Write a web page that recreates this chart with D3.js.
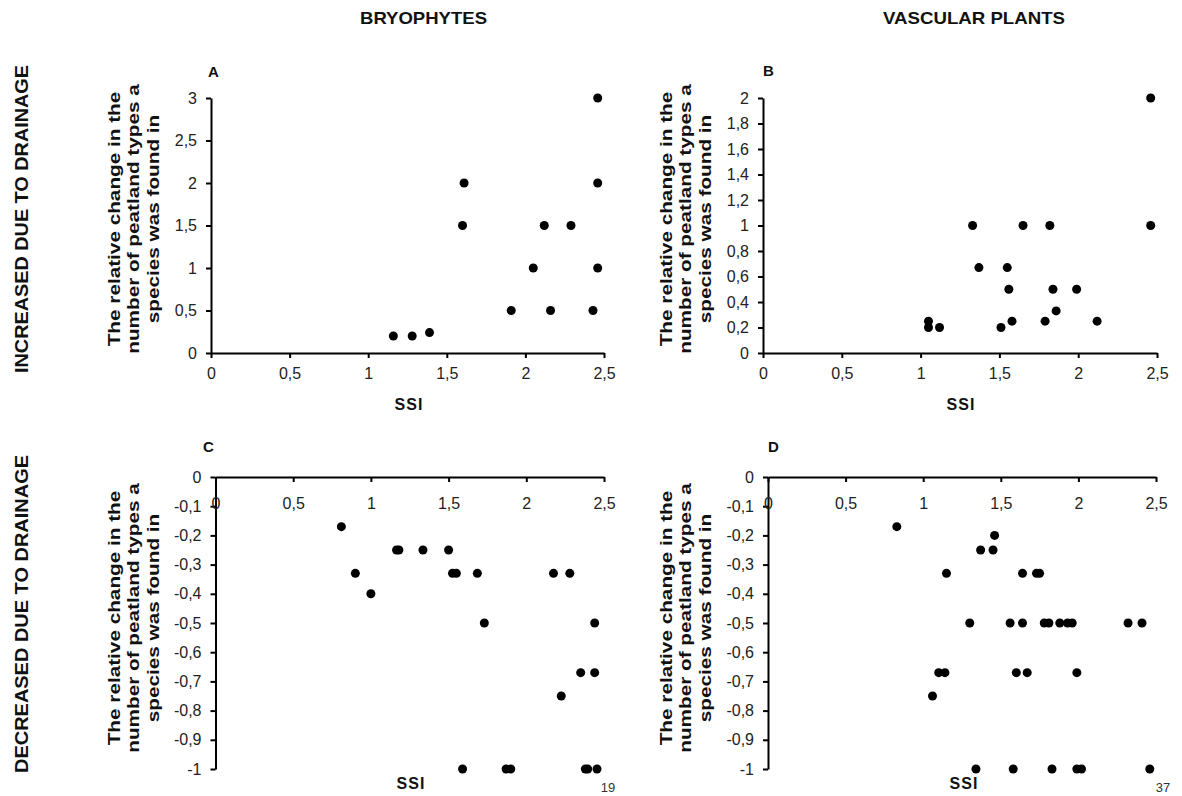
<!DOCTYPE html>
<html>
<head>
<meta charset="utf-8">
<script src="https://cdn.jsdelivr.net/npm/d3@7"></script>
<style>
  html, body { margin: 0; padding: 0; background: #fff; }
  svg { display: block; font-family: "Liberation Sans", Arial, sans-serif; }
</style>
</head>
<body>
<svg id="chart" width="1182" height="796"></svg>
<script>
// ---------- DATA ----------
const columnTitles = ["BRYOPHYTES", "VASCULAR PLANTS"];
const rowTitles = ["INCREASED DUE TO DRAINAGE", "DECREASED DUE TO DRAINAGE"];
const panelLetters = ["A", "B", "C", "D"];
const yLabelLines = ["The relative change in the", "number of peatland types a", "species was found in"];
const xLabel = "SSI";
const countLabels = ["19", "37"];

const xTicks = [0, 0.5, 1, 1.5, 2, 2.5];
const yTicksA = [0, 0.5, 1, 1.5, 2, 2.5, 3];
const yTicksB = [0, 0.2, 0.4, 0.6, 0.8, 1, 1.2, 1.4, 1.6, 1.8, 2];
const yTicksDec = [0, -0.1, -0.2, -0.3, -0.4, -0.5, -0.6, -0.7, -0.8, -0.9, -1];

// A: bryophytes, increased
const bryoIncX = [1.16, 1.28, 1.39, 1.60, 1.61, 1.91, 2.05, 2.12, 2.16, 2.29, 2.43, 2.46, 2.46, 2.46];
const bryoIncY = [0.2, 0.2, 0.24, 1.5, 2, 0.5, 1, 1.5, 0.5, 1.5, 0.5, 3, 2, 1];

// B: vascular plants, increased
const vascIncX = [1.05, 1.05, 1.12, 1.33, 1.37, 1.51, 1.55, 1.56, 1.58, 1.65, 1.79, 1.82, 1.84, 1.86, 1.99, 2.12, 2.46, 2.46];
const vascIncY = [0.25, 0.2, 0.2, 1, 0.67, 0.2, 0.67, 0.5, 0.25, 1, 0.25, 1, 0.5, 0.33, 0.5, 0.25, 2, 1];

// C: bryophytes, decreased
const bryoDecX = [0.81, 0.90, 1.00, 1.165, 1.18, 1.335, 1.50, 1.525, 1.55, 1.685, 1.73, 1.59, 1.87, 1.90, 2.175, 2.28, 2.225, 2.35, 2.44, 2.44, 2.38, 2.395, 2.455];
const bryoDecY = [-0.17, -0.33, -0.4, -0.25, -0.25, -0.25, -0.25, -0.33, -0.33, -0.33, -0.5, -1, -1, -1, -0.33, -0.33, -0.75, -0.67, -0.5, -0.67, -1, -1, -1];

// D: vascular plants, decreased
const vascDecX = [0.83, 1.06, 1.10, 1.14, 1.15, 1.30, 1.34, 1.37, 1.45, 1.46, 1.56, 1.58, 1.60, 1.64, 1.64, 1.67, 1.73, 1.75, 1.78, 1.81, 1.83, 1.88, 1.93, 1.96, 1.99, 1.99, 2.02, 2.32, 2.41, 2.46];
const vascDecY = [-0.17, -0.75, -0.67, -0.67, -0.33, -0.5, -1, -0.25, -0.25, -0.2, -0.5, -1, -0.67, -0.33, -0.5, -0.67, -0.33, -0.33, -0.5, -0.5, -1, -0.5, -0.5, -0.5, -0.67, -1, -1, -0.5, -0.5, -1];

// ---------- LAYOUT ----------
const svg = d3.select("#chart");
const fmt = v => String(+v.toFixed(2)).replace(".", ",");

const panels = [
  { letter: panelLetters[0], xs: bryoIncX, ys: bryoIncY, yTicks: yTicksA, yDomain: [0, 3],
    x0: 211, x1: 604, yTop: 98, yBot: 353, inverted: false, lblX: 104, lblCY: 219,
    letterPos: [208, 77], ssiPos: [409, 410] },
  { letter: panelLetters[1], xs: vascIncX, ys: vascIncY, yTicks: yTicksB, yDomain: [0, 2],
    x0: 763, x1: 1157, yTop: 98, yBot: 353, inverted: false, lblX: 656, lblCY: 219,
    letterPos: [763, 76], ssiPos: [961, 410] },
  { letter: panelLetters[2], xs: bryoDecX, ys: bryoDecY, yTicks: yTicksDec, yDomain: [-1, 0],
    x0: 215.5, x1: 604, yTop: 477, yBot: 769, inverted: true, lblX: 104, lblCY: 618,
    letterPos: [203, 452], ssiPos: [411, 789], count: countLabels[0], countPos: [608, 792] },
  { letter: panelLetters[3], xs: vascDecX, ys: vascDecY, yTicks: yTicksDec, yDomain: [-1, 0],
    x0: 768, x1: 1156, yTop: 477, yBot: 769, inverted: true, lblX: 656, lblCY: 618,
    letterPos: [768, 452], ssiPos: [964, 789], count: countLabels[1], countPos: [1163, 792] }
];

// Column titles
svg.append("text").attr("x", 360).attr("y", 24)
  .attr("font-size", 17).attr("font-weight", "bold").attr("fill", "#111")
  .attr("textLength", 127).attr("lengthAdjust", "spacingAndGlyphs").text(columnTitles[0]);
svg.append("text").attr("x", 883).attr("y", 24)
  .attr("font-size", 17).attr("font-weight", "bold").attr("fill", "#111")
  .attr("textLength", 182).attr("lengthAdjust", "spacingAndGlyphs").text(columnTitles[1]);

// Row titles
[[219, rowTitles[0], 308], [614, rowTitles[1], 318]].forEach(([cy, t, len]) => {
  svg.append("text").attr("transform", `translate(28,${cy}) rotate(-90)`)
    .attr("x", -len / 2).attr("font-size", 18.5).attr("font-weight", "bold")
    .attr("textLength", len).attr("lengthAdjust", "spacingAndGlyphs")
    .attr("fill", "#111").text(t);
});

panels.forEach(p => {
  const g = svg.append("g");
  const x = d3.scaleLinear().domain([0, 2.5]).range([p.x0, p.x1]);
  const y = d3.scaleLinear().domain(p.yDomain).range([p.yBot, p.yTop]);

  // Y axis
  const yAxis = d3.axisLeft(y).tickValues(p.yTicks).tickFormat(fmt).tickSizeInner(5).tickSizeOuter(0).tickPadding(9);
  const ya = g.append("g").attr("transform", `translate(${p.x0},0)`).call(yAxis);

  // X axis
  const xPos = p.inverted ? y(0) : y(p.yDomain[0]);
  const xAxis = d3.axisBottom(x).tickValues(xTicks).tickFormat(fmt).tickSizeInner(5).tickSizeOuter(0).tickPadding(p.inverted ? 16 : 10);
  const xa = g.append("g").attr("transform", `translate(0,${xPos})`).call(xAxis);

  [ya, xa].forEach(a => {
    a.select(".domain").attr("stroke", "#000").attr("stroke-width", 2);
    a.selectAll(".tick line").attr("stroke", "#000").attr("stroke-width", 2);
    a.selectAll(".tick text").attr("font-size", 16).attr("fill", "#222")
      .attr("font-family", "'Liberation Sans', Arial, sans-serif");
  });

  // Points
  g.selectAll("circle.pt").data(p.xs.map((v, i) => [v, p.ys[i]])).enter()
    .append("circle").attr("class", "pt")
    .attr("cx", d => x(d[0])).attr("cy", d => y(d[1])).attr("r", 4.5).attr("fill", "#000");

  // Panel letter
  g.append("text").attr("x", p.letterPos[0]).attr("y", p.letterPos[1])
    .attr("font-size", 15).attr("font-weight", "bold").attr("fill", "#111").text(p.letter);

  // Y label (3 lines), stretched along its length like the reference
  const yl = g.append("text").attr("transform", `translate(${p.lblX},${p.lblCY}) rotate(-90) scale(1.22,1)`)
    .attr("text-anchor", "middle").attr("font-size", 17).attr("font-weight", "bold").attr("fill", "#111");
  yLabelLines.forEach((line, i) => {
    yl.append("tspan").attr("x", 0).attr("y", 16 + i * 19.5).text(line);
  });

  // SSI label
  g.append("text").attr("x", p.ssiPos[0]).attr("y", p.ssiPos[1]).attr("text-anchor", "middle")
    .attr("font-size", 16).attr("font-weight", "bold").attr("letter-spacing", 1).attr("fill", "#111").text(xLabel);

  if (p.count) {
    g.append("text").attr("x", p.countPos[0]).attr("y", p.countPos[1]).attr("text-anchor", "middle")
      .attr("font-size", 13).attr("fill", "#333").text(p.count);
  }
});
</script>
</body>
</html>
